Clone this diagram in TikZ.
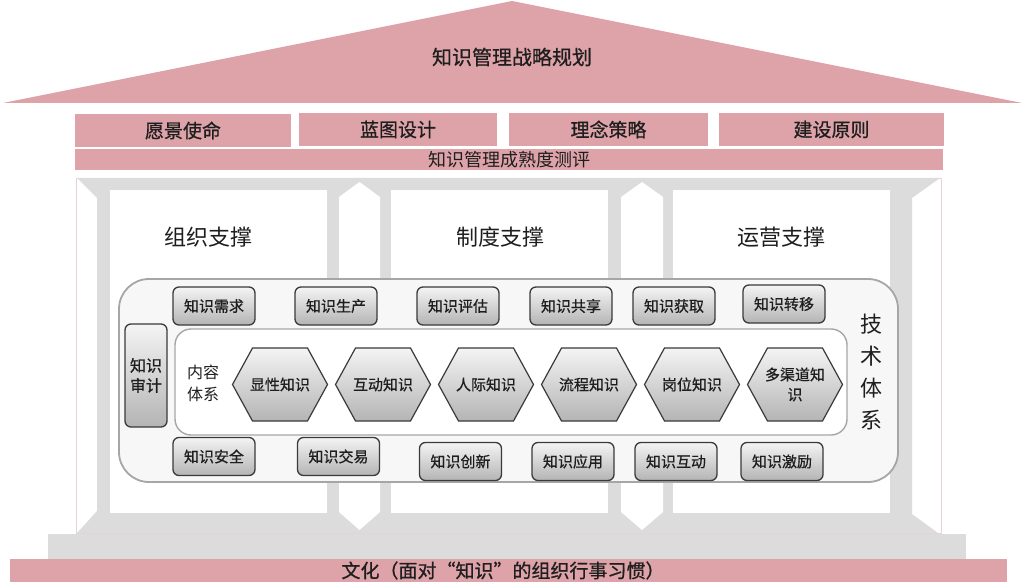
\documentclass[tikz,border=0pt]{standalone}
\usepackage{fontspec}
\setmainfont{Noto Sans CJK SC}
\newfontfamily\medfont[FakeBold=0.7]{Noto Sans CJK SC}
\definecolor{roofpink}{HTML}{DDA3A9}
\definecolor{framegray}{HTML}{DCDCDC}
\definecolor{btntop}{HTML}{F4F4F4}
\definecolor{btnbot}{HTML}{B4B4B4}
\definecolor{btnline}{HTML}{3A3A3A}
\definecolor{techline}{HTML}{A6A6A6}
\definecolor{textc}{HTML}{1E1E1E}
\definecolor{boxline}{HTML}{E2D4D6}
\tikzset{
  pinkbox/.style={fill=roofpink, inner sep=0pt, text=textc, font=\medfont\fontsize{19}{22}\selectfont},
  btn/.style={draw=btnline, line width=1.3pt, rounded corners=6pt, top color=btntop, bottom color=btnbot,
     minimum width=82pt, minimum height=38pt, inner sep=0pt, text=textc, font=\medfont\fontsize{15}{18}\selectfont},
  hexshape/.style={draw=btnline, line width=1.2pt, top color=btntop, bottom color=btnbot},
  hextext/.style={inner sep=0pt, text=textc, align=center, font=\medfont\fontsize{15}{20}\selectfont},
  title/.style={inner sep=0pt, text=textc, font=\fontsize{22}{26}\selectfont},
  plain/.style={inner sep=0pt, text=textc, align=center}
}
\newcommand\hexa[3]{%
  \path[hexshape] (#2-47.5,384.5) -- (#2-27.5,348) -- (#2+27.5,348) -- (#2+47.5,384.5)
     -- (#2+27.5,421) -- (#2-27.5,421) -- cycle;
  \node[hextext] (#1) at (#2,384.5) {#3};
}
\begin{document}
\begin{tikzpicture}[x=1pt,y=-1pt]
\useasboundingbox[fill=white] (0,0) rectangle (1024,585);

% roof
\fill[roofpink] (3,103) -- (512,1) -- (1022,103) -- cycle;
\node[plain, font=\medfont\fontsize{20}{24}\selectfont] (roof) at (512,57) {知识管理战略规划};

% four pink boxes and maturity bar
\node[pinkbox, minimum width=216pt, minimum height=33pt] (vision) at (183,130.5) {愿景使命};
\node[pinkbox, minimum width=198pt, minimum height=33pt] (blue) at (398,129.5) {蓝图设计};
\node[pinkbox, minimum width=199pt, minimum height=33pt] (idea) at (608.5,129.5) {理念策略};
\node[pinkbox, minimum width=225pt, minimum height=33pt] (rule) at (831.5,129.5) {建设原则};
\node[pinkbox, minimum width=868pt, minimum height=21pt, font=\fontsize{18}{20}\selectfont] (mature) at (509,159.5) {知识管理成熟度测评};

% base step
\fill[framegray] (48,534) rectangle (966,559);
% outer box
\draw[boxline, fill=white, line width=0.8pt] (76,178) rectangle (941,533);
% gray frame
\fill[framegray] (77,178) -- (940,178) -- (912,198) -- (912,514) -- (938,533)
   -- (77,533) -- (97,511) -- (97,198) -- cycle;
% bays
\fill[white] (110,190) rectangle (327,513);
\fill[white] (391,190) rectangle (608,513);
\fill[white] (673,190) rectangle (890,513);
% pentagon columns
\fill[white] (339,197) -- (359.5,182) -- (380,197) -- (380,512) -- (359.5,530) -- (339,512) -- cycle;
\fill[white] (621,197) -- (642,182) -- (663,197) -- (663,512) -- (642,530) -- (621,512) -- cycle;

% titles
\node[title] (org) at (208,237) {组织支撑};
\node[title] (sys) at (500,237) {制度支撑};
\node[title] (ops) at (781,237) {运营支撑};

% technology system
\draw[techline, fill=white!97!black, line width=1.8pt, rounded corners=30pt] (119,279) rectangle (898,482);
\draw[techline, fill=white, line width=1.4pt, rounded corners=16pt] (175,329) rectangle (847,435);
\node[plain, font=\fontsize{22}{32}\selectfont] (tech) at (871,372) {技\\术\\体\\系};

% top row
\node[btn] (b1) at (214,306) {知识需求};
\node[btn] (b2) at (336,306) {知识生产};
\node[btn] (b3) at (458,306) {知识评估};
\node[btn] (b4) at (571,306) {知识共享};
\node[btn] (b5) at (674,306) {知识获取};
\node[btn] (b6) at (784,304) {知识转移};
% bottom row
\node[btn] (c1) at (214,456.5) {知识安全};
\node[btn] (c2) at (338.5,456.5) {知识交易};
\node[btn] (c3) at (460.5,461.5) {知识创新};
\node[btn] (c4) at (573,461.5) {知识应用};
\node[btn] (c5) at (676,461.5) {知识互动};
\node[btn] (c6) at (782,461.5) {知识激励};
% audit
\node[btn, minimum width=42pt, minimum height=103pt, align=center, font=\medfont\fontsize{16}{20}\selectfont] (audit) at (146,375.5) {知识\\审计};
% content label
\node[plain, font=\fontsize{16}{22}\selectfont] (content) at (203,383) {内容\\体系};

% hexagons
\hexa{h1}{280}{显性知识}
\hexa{h2}{383}{互动知识}
\hexa{h3}{486}{人际知识}
\hexa{h4}{589}{流程知识}
\hexa{h5}{692}{岗位知识}
\hexa{h6}{795}{多渠道知\\识}

% culture band
\fill[roofpink] (10,559) rectangle (1007,582);
\node[plain, font=\medfont\fontsize{19}{22}\selectfont] (culture) at (503,570.5) {文化（面对“知识”的组织行事习惯）};
\end{tikzpicture}
\end{document}
